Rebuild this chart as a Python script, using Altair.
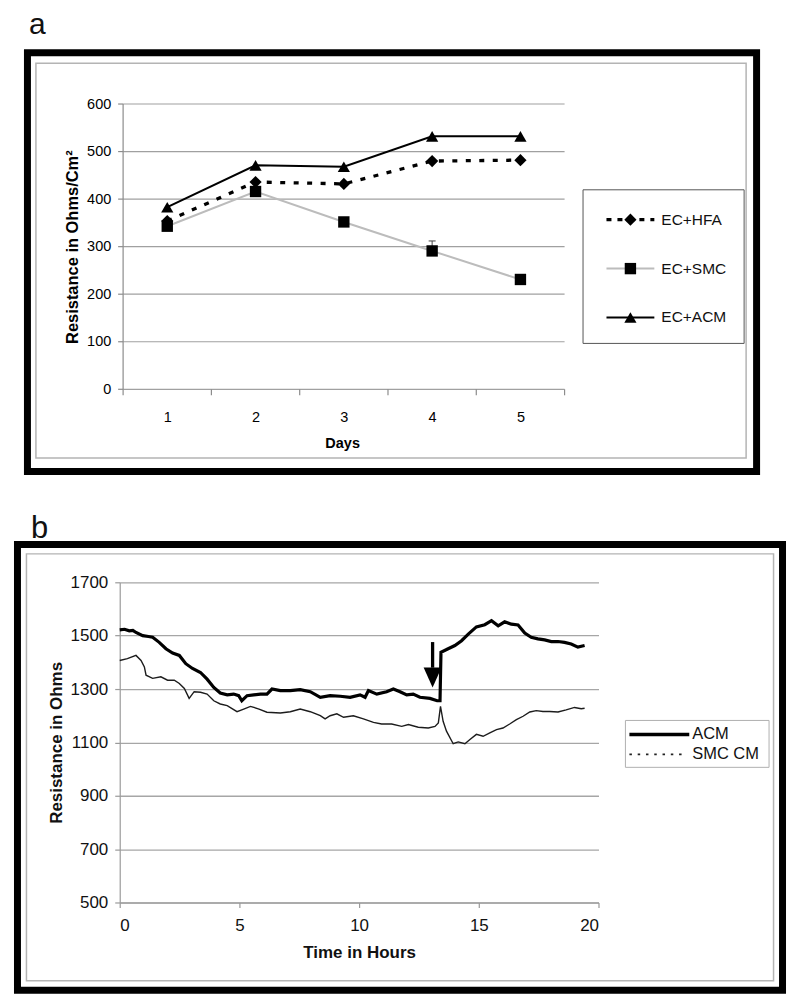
import altair as alt
import pandas as pd

FONT = "Liberation Sans"

# ---------------- Panel a data ----------------
days = [1, 2, 3, 4, 5]
ec_hfa = [354, 436, 432, 480, 482]
ec_smc = [343, 416, 352, 291, 231]
ec_acm = [383, 471, 468, 532, 532]
ec_smc_err = [0, 0, 0, 21, 0]
a_yticks = [0, 100, 200, 300, 400, 500, 600]
a_edges = [0.5, 1.5, 2.5, 3.5, 4.5, 5.5]
a_names = ["EC+HFA", "EC+SMC", "EC+ACM"]

# ---------------- Panel b data ----------------
acm_hours = [0.0, 0.2, 0.4, 0.55, 0.68, 0.96, 1.2, 1.375, 1.65, 1.93, 2.21, 2.49, 2.76,
             3.04, 3.375, 3.65, 3.93, 4.2, 4.49, 4.76, 4.97, 5.1, 5.32, 5.6, 5.88, 6.15,
             6.36, 6.71, 7.125, 7.54, 7.96, 8.38, 8.79, 9.21, 9.625, 10.04, 10.25, 10.39,
             10.74, 11.15, 11.43, 11.71, 11.99, 12.26, 12.54, 12.96, 13.26, 13.38, 13.42,
             13.72, 14.0, 14.28, 14.56, 14.9, 15.25, 15.53, 15.81, 16.08, 16.36, 16.64,
             16.92, 17.19, 17.47, 17.75, 18.03, 18.31, 18.58, 18.86, 19.14, 19.42]
acm_ohms = [1522, 1524, 1518, 1520, 1512, 1500, 1497, 1494, 1475, 1451, 1435, 1426, 1395,
            1377, 1362, 1337, 1306, 1285, 1278, 1281, 1275, 1256, 1275, 1278, 1281, 1281,
            1300, 1294, 1294, 1298, 1290, 1269, 1275, 1273, 1269, 1278, 1269, 1294,
            1281, 1290, 1300, 1290, 1278, 1281, 1269, 1265, 1256, 1256, 1438,
            1451, 1463, 1481, 1506, 1533, 1541, 1556, 1537, 1552, 1543, 1540,
            1510, 1494, 1488, 1484, 1478, 1478, 1475, 1469, 1457, 1463]
smc_hours = [0.0, 0.32, 0.68, 0.89, 1.03, 1.1, 1.375, 1.72, 2.0, 2.28, 2.49, 2.7, 2.9,
             3.11, 3.375, 3.65, 3.93, 4.2, 4.49, 4.9, 5.18, 5.46, 5.82, 6.15, 6.71, 7.125,
             7.54, 7.96, 8.38, 8.58, 8.79, 9.07, 9.35, 9.76, 10.18, 10.6, 10.94, 11.36,
             11.78, 12.06, 12.47, 12.89, 13.17, 13.31, 13.4, 13.51, 13.65, 13.93, 14.14,
             14.42, 14.63, 14.9, 15.18, 15.46, 15.74, 16.01, 16.29, 16.57, 16.85, 17.13,
             17.4, 17.68, 17.96, 18.31, 18.65, 19.0, 19.28, 19.42]
smc_ohms = [1407, 1414, 1426, 1407, 1383, 1352, 1340, 1346, 1333, 1333, 1321, 1302, 1265,
            1290, 1288, 1281, 1256, 1244, 1238, 1215, 1225, 1235, 1225, 1213, 1210, 1215,
            1225, 1215, 1200, 1188, 1200, 1207, 1194, 1200, 1188, 1175, 1169, 1169,
            1160, 1167, 1157, 1154, 1160, 1173, 1235, 1179, 1142, 1095, 1102,
            1095, 1111, 1130, 1123, 1136, 1148, 1154, 1169, 1185, 1198, 1214,
            1219, 1216, 1216, 1214, 1222, 1231, 1226, 1228]
b_yticks = [500, 700, 900, 1100, 1300, 1500, 1700]
b_xticks = [0, 5, 10, 15, 20]
b_names = ["ACM", "SMC CM"]
arrow_hour = 13.07
arrow_top = 1476
arrow_base = 1380
arrow_head = 1343

one = pd.DataFrame({"k": [0]})


def vrect(x1, x2, y1, y2, **kw):
    return alt.Chart(one).mark_rect(**kw).encode(
        x=alt.value(x1), x2=alt.value(x2), y=alt.value(y1), y2=alt.value(y2))


def vtext(txt, x, y, size, **kw):
    return alt.Chart(one).mark_text(text=txt, fontSize=size, font=FONT, **kw).encode(
        x=alt.value(x), y=alt.value(y))


def vrule(x1, x2, y, **kw):
    return alt.Chart(one).mark_rule(**kw).encode(
        x=alt.value(x1), x2=alt.value(x2), y=alt.value(y))


# ================= Panel a =================
WA, HA = 446, 286
xa_scale = alt.Scale(domain=[0.4616, 5.5], nice=False, zero=False)
ya_scale = alt.Scale(domain=[0, 600], nice=False)
xa_axis = alt.Axis(values=days, format="d", domain=False, ticks=False, tickSize=0, grid=False,
                   labelPadding=21, labelFontSize=14.5, labelColor="black", labelFont=FONT,
                   title="Days", titleFontSize=14.5, titleFontWeight="bold", titleColor="black",
                   titleFont=FONT, titleBaseline="alphabetic", titleY=58, zindex=1)
ya_axis = alt.Axis(values=a_yticks, format="d", domain=False, ticks=False, tickSize=0, grid=False,
                   labelPadding=9, labelFontSize=14.5, labelColor="black", labelFont=FONT,
                   title="Resistance in Ohms/Cm²", titleFontSize=16.5, titleFontWeight="bold",
                   titleColor="black", titleFont=FONT, titleBaseline="alphabetic",
                   titleX=-42, titleY=143, titleAngle=270, zindex=1)


def XA(f):
    return alt.X(f, type="quantitative", scale=xa_scale, axis=xa_axis)


def YA(f):
    return alt.Y(f, type="quantitative", scale=ya_scale, axis=ya_axis)


grid_df = pd.DataFrame({"v": a_yticks})
grid_df["x0"] = a_edges[0]
grid_df["x1"] = a_edges[-1]
grid_a = alt.Chart(grid_df).mark_rule(color="#a0a0a0", strokeWidth=1.2).encode(
    x=XA("x0"), x2="x1", y=YA("v"))
yline_df = pd.DataFrame({"x": [a_edges[0]], "y0": [a_yticks[0]], "y1": [a_yticks[-1]]})
yline_a = alt.Chart(yline_df).mark_rule(color="#8c8c8c", strokeWidth=1.2).encode(
    x=XA("x"), y=YA("y0"), y2="y1")
yticks_a = alt.Chart(pd.DataFrame({"v": a_yticks})).mark_rule(color="#8c8c8c", strokeWidth=1.2).encode(
    x=alt.value(-1.6), x2=alt.value(3.4), y=YA("v"))
xticks_a = alt.Chart(pd.DataFrame({"e": a_edges})).mark_rule(color="#8c8c8c", strokeWidth=1.2).encode(
    x=XA("e"), y=alt.value(HA), y2=alt.value(HA + 6))

dh = pd.DataFrame({"day": days, "v": ec_hfa})
ds = pd.DataFrame({"day": days, "v": ec_smc, "e": ec_smc_err})
dac = pd.DataFrame({"day": days, "v": ec_acm})
de = ds[ds["e"] > 0].copy()
de["top"] = de["v"] + de["e"]

hfa_line = alt.Chart(dh).mark_line(color="black", strokeWidth=3.3, strokeDash=[5, 8.5]).encode(
    x=XA("day"), y=YA("v"))
hfa_pts = alt.Chart(dh).mark_point(shape="diamond", filled=True, size=150, color="black", opacity=1).encode(
    x=XA("day"), y=YA("v"))
smc_line = alt.Chart(ds).mark_line(color="#bcbcbc", strokeWidth=2).encode(x=XA("day"), y=YA("v"))
err_rule = alt.Chart(de).mark_rule(color="#444", strokeWidth=1).encode(x=XA("day"), y=YA("v"), y2="top")
err_cap = alt.Chart(de).mark_tick(orient="horizontal", size=7, thickness=1, color="#444", opacity=1).encode(
    x=XA("day"), y=YA("top"))
smc_pts = alt.Chart(ds).mark_point(shape="square", filled=True, size=130, color="black", opacity=1).encode(
    x=XA("day"), y=YA("v"))
acm_line = alt.Chart(dac).mark_line(color="black", strokeWidth=2).encode(x=XA("day"), y=YA("v"))
acm_pts = alt.Chart(dac).mark_point(shape="triangle-up", filled=True, size=150, color="black", opacity=1).encode(
    x=XA("day"), y=YA("v"))

# decorations panel a (page coords minus view origin 119,100)
bg = vrect(-111, 673, -92, 898, fill="white", opacity=0)
frame_a = vrect(-92.5, 638.5, -51.5, 368.5, fillOpacity=0, stroke="black", strokeWidth=7)
inner_a = vrect(-84, 628, -41, 355, fillOpacity=0, stroke="#b4b4b4", strokeWidth=1.5)
label_a = vtext("a", -91, -70, 30, align="left", baseline="alphabetic", color="#111")

leg_a = [vrect(464.5, 626, 86, 240, fill="white", stroke="#555", strokeWidth=1)]
leg_y = [116, 165, 214]
leg_a.append(vrule(488, 536, leg_y[0], color="black", strokeWidth=3.3, strokeDash=[5, 6]))
leg_a.append(vrule(488, 536, leg_y[1], color="#bcbcbc", strokeWidth=2))
leg_a.append(vrule(488, 536, leg_y[2], color="black", strokeWidth=2))
for shp, yy in zip(["diamond", "square", "triangle-up"], leg_y):
    leg_a.append(alt.Chart(one).mark_point(shape=shp, filled=True, size=130 if shp == "square" else 150,
                                           color="black", opacity=1).encode(x=alt.value(512), y=alt.value(yy)))
for nm, yy in zip(a_names, leg_y):
    leg_a.append(vtext(nm, 543, yy, 15.5, align="left", baseline="middle", color="#111"))

panel_a = alt.layer(
    bg, frame_a, inner_a, label_a,
    grid_a, yline_a, yticks_a, xticks_a,
    hfa_line, hfa_pts, smc_line, err_rule, err_cap, smc_pts, acm_line, acm_pts,
    *leg_a
).properties(width=WA, height=HA)

# ================= Panel b =================
WB, HB = 480, 321
xb_scale = alt.Scale(domain=[0, 20], nice=False)
yb_scale = alt.Scale(domain=[500, 1700], nice=False, zero=False)
xb_axis = alt.Axis(values=b_xticks, format="d", grid=False, domainColor="#9a9a9a", domainWidth=1.2,
                   tickColor="#9a9a9a", tickWidth=1.2, tickSize=5, labelPadding=10.5, labelFontSize=17,
                   labelColor="#111", labelFont=FONT, title="Time in Hours", titleFontSize=17,
                   titleFontWeight="bold", titleColor="#111", titleFont=FONT,
                   titleBaseline="alphabetic", titleY=54.7)
yb_axis = alt.Axis(values=b_yticks, format="d", grid=True, gridColor="#a6a6a6", gridWidth=1.3,
                   domainColor="#9a9a9a", domainWidth=1.2, tickColor="#9a9a9a", tickWidth=1.2,
                   tickSize=5, labelPadding=7, labelFontSize=17, labelColor="#111", labelFont=FONT,
                   title="Resistance in Ohms", titleFontSize=17, titleFontWeight="bold",
                   titleColor="#111", titleFont=FONT, titleBaseline="alphabetic",
                   titleX=-58, titleY=160.5, titleAngle=270)


def XB(f):
    return alt.X(f, type="quantitative", scale=xb_scale, axis=xb_axis)


def YB(f):
    return alt.Y(f, type="quantitative", scale=yb_scale, axis=yb_axis)


dfa = pd.DataFrame({"h": acm_hours, "v": acm_ohms})
dfs = pd.DataFrame({"h": smc_hours, "v": smc_ohms})
darr = pd.DataFrame({"h": [arrow_hour], "top": [arrow_top], "base": [arrow_base], "head": [arrow_head]})

smc_b = alt.Chart(dfs).mark_line(color="#1c1c1c", strokeWidth=1.4).encode(x=XB("h"), y=YB("v"))
acm_b = alt.Chart(dfa).mark_line(color="black", strokeWidth=3.2).encode(x=XB("h"), y=YB("v"))
arrow_shaft = alt.Chart(darr).mark_rule(color="black", strokeWidth=3.3).encode(
    x=XB("h"), y=YB("top"), y2="base")
arrow_tip = alt.Chart(darr).mark_point(shape="M-0.9,-1L0.9,-1L0,1Z", filled=True, size=400,
                                       color="black", opacity=1).encode(x=XB("h"), y=YB("head"))

frame_b = vrect(-102.5, 664.5, -38, 409, fillOpacity=0, stroke="black", strokeWidth=7)
inner_b = vrect(-93.5, 655.5, -28.5, 399.5, fillOpacity=0, stroke="#b4b4b4", strokeWidth=1.5)
label_b = vtext("b", -89, -44.5, 31, align="left", baseline="alphabetic", color="#111")
leg_b = [
    vrect(507, 651, 138.5, 185.5, fill="white", stroke="#b0b0b0", strokeWidth=1),
    vrule(511, 571, 152.5, color="black", strokeWidth=3.5),
    vrule(511, 566, 172.5, color="#222", strokeWidth=1.6, strokeDash=[2.5, 5.8]),
    vtext(b_names[0], 574, 152.5, 16.5, align="left", baseline="middle", color="#111"),
    vtext(b_names[1], 574, 172.5, 16.5, align="left", baseline="middle", color="#111"),
]

panel_b = alt.layer(
    frame_b, inner_b, label_b, smc_b, acm_b, arrow_shaft, arrow_tip, *leg_b
).properties(width=WB, height=HB)

chart = alt.vconcat(panel_a, panel_b, spacing=193.5, bounds="flush").properties(
    padding=0
).configure(font=FONT).configure_view(stroke="transparent")

chart.save("out.html", embed_options={"renderer": "svg", "actions": False})
